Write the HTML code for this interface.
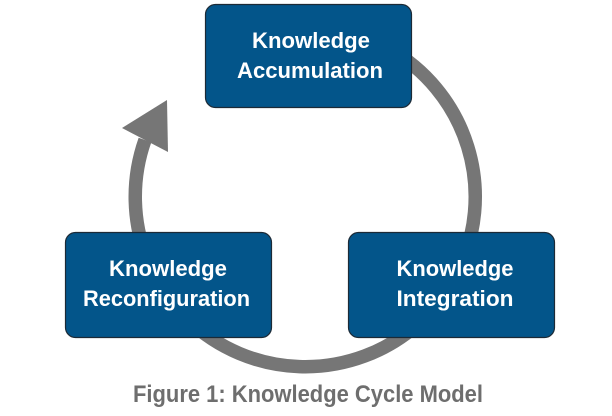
<!DOCTYPE html>
<html>
<head>
<meta charset="utf-8">
<style>
  html, body { margin: 0; padding: 0; background: #ffffff; }
  body { width: 612px; height: 416px; overflow: hidden; }
  svg { display: block; }
  text { font-family: "Liberation Sans", "DejaVu Sans", sans-serif; font-weight: bold; }
</style>
</head>
<body>
<svg width="612" height="416" viewBox="0 0 612 416" xmlns="http://www.w3.org/2000/svg">
  <!-- cycle arc -->
  <path d="M 389 48.8 A 170 170 0 1 1 145 140" fill="none" stroke="#767676" stroke-width="13.5"/>
  <!-- arrowhead -->
  <polygon points="167,100 122,128 168,152" fill="#767676"/>

  <!-- boxes -->
  <rect x="205.5" y="4.5" width="206" height="103" rx="10" ry="10" fill="#03558a" stroke="#1c2a36" stroke-width="1.2"/>
  <rect x="65.5" y="232.5" width="206" height="105" rx="10" ry="10" fill="#03558a" stroke="#1c2a36" stroke-width="1.2"/>
  <rect x="348.5" y="232.5" width="206" height="105" rx="10" ry="10" fill="#03558a" stroke="#1c2a36" stroke-width="1.2"/>

  <!-- labels -->
  <g fill="#ffffff" font-size="22.5" text-anchor="middle">
    <text x="311" y="48" textLength="118" lengthAdjust="spacingAndGlyphs">Knowledge</text>
    <text x="310" y="78" textLength="146" lengthAdjust="spacingAndGlyphs">Accumulation</text>

    <text x="168" y="276" textLength="118" lengthAdjust="spacingAndGlyphs">Knowledge</text>
    <text x="166.5" y="306" textLength="167" lengthAdjust="spacingAndGlyphs">Reconfiguration</text>

    <text x="455" y="276" textLength="117" lengthAdjust="spacingAndGlyphs">Knowledge</text>
    <text x="455" y="306" textLength="117" lengthAdjust="spacingAndGlyphs">Integration</text>
  </g>

  <!-- caption -->
  <text x="308" y="402" fill="#6e6e6e" font-size="24" text-anchor="middle" textLength="350" lengthAdjust="spacingAndGlyphs">Figure 1: Knowledge Cycle Model</text>
</svg>
</body>
</html>
